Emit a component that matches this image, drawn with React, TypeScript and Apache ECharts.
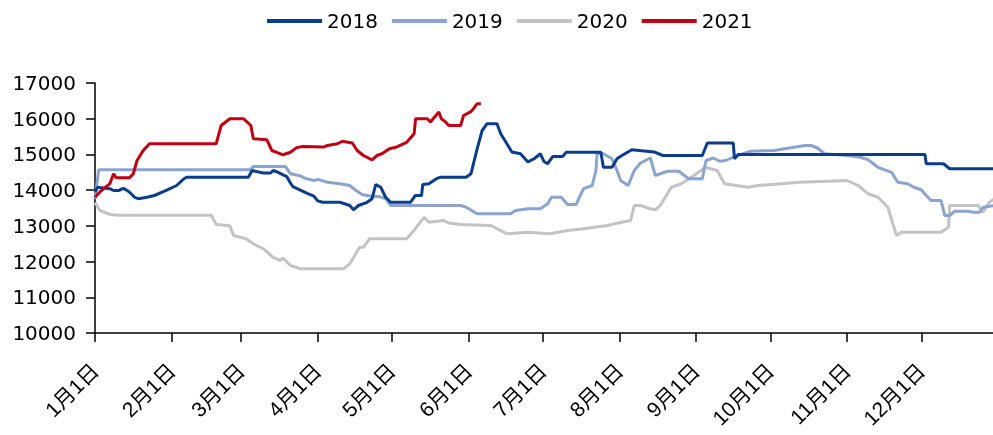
import React, { useEffect, useRef } from "react";
import * as echarts from "echarts";

const seriesNames = ["2018", "2019", "2020", "2021"];
const monthStarts = [0, 31, 59, 90, 120, 151, 181, 212, 243, 273, 304, 334];
const monthLabels = ["1月1日", "2月1日", "3月1日", "4月1日", "5月1日", "6月1日", "7月1日", "8月1日", "9月1日", "10月1日", "11月1日", "12月1日"];

const data2018: [number, number][] = [
  [0, 13950], [1, 14080], [6, 14040], [7.5, 13990], [9.5, 13990], [11.5, 14050], [13, 13990], [14, 13940], [16, 13800], [17.5, 13760], [21, 13800], [24, 13850], [29, 14000], [33, 14130], [36, 14320], [37, 14360], [62, 14360], [63.5, 14550], [68, 14480], [71, 14480], [72, 14550], [74, 14500], [77.5, 14380], [79, 14200], [80, 14100], [83, 14000], [86, 13900], [88.5, 13830], [90, 13700], [92, 13660], [99, 13660], [103, 13570], [104.5, 13450], [106.5, 13570], [110, 13660], [112, 13760], [113.5, 14160], [115.5, 14080], [117.5, 13800], [119.5, 13660], [127.5, 13660], [129.5, 13850], [132, 13850], [132.5, 14160], [135, 14180], [138, 14320], [139.5, 14360], [150, 14360], [152, 14460], [153, 14740], [154.5, 15160], [156.5, 15670], [158.5, 15860], [162.5, 15860], [164, 15580], [166.5, 15300], [168.5, 15070], [172, 15020], [175, 14790], [177.5, 14880], [180, 15020], [181.5, 14800], [183, 14740], [185, 14940], [189, 14940], [190.5, 15060], [204.5, 15060], [205.5, 14640], [209, 14640], [211, 14880], [213, 14970], [217, 15130], [221, 15100], [226, 15070], [229.5, 14970], [245.5, 14970], [247.5, 15320], [258, 15320], [258.5, 14880], [260, 15000], [335.5, 15000], [336, 14740], [343, 14740], [345.5, 14600], [364, 14600],
];

const data2019: [number, number][] = [
  [0, 13750], [1.5, 14570], [62.5, 14570], [64, 14660], [77, 14660], [79, 14460], [83, 14400], [85, 14330], [88.5, 14270], [90, 14300], [94, 14220], [99, 14180], [103, 14130], [105.5, 13990], [108, 13880], [112, 13820], [115, 13820], [117.5, 13760], [119.5, 13570], [148, 13570], [150, 13520], [154.5, 13340], [168, 13340], [170, 13430], [175, 13480], [180, 13480], [183, 13620], [184.5, 13800], [188.5, 13800], [191, 13600], [194.5, 13600], [196.5, 13900], [197.5, 14040], [201, 14130], [202.5, 14550], [203, 15060], [205.5, 15020], [209, 14880], [211, 14550], [212.5, 14270], [215.5, 14130], [218, 14550], [220.5, 14760], [224.5, 14900], [226.5, 14410], [231.5, 14530], [236, 14530], [240, 14320], [245.5, 14320], [247, 14830], [250, 14900], [252.5, 14810], [255, 14830], [258.5, 14940], [265, 15090], [274.5, 15110], [282.5, 15200], [287, 15250], [289.5, 15250], [292, 15180], [295, 15020], [304, 14970], [309.5, 14920], [312.5, 14850], [316.5, 14640], [322, 14500], [324.5, 14220], [328.5, 14180], [331, 14080], [334, 14010], [336, 13850], [338, 13710], [342, 13710], [343.5, 13290], [345.5, 13290], [347.5, 13410], [353, 13410], [355, 13380], [357.5, 13380], [359, 13520], [364, 13570],
];

const data2020: [number, number][] = [
  [0, 13650], [2, 13430], [6, 13320], [10, 13300], [47, 13300], [49, 13040], [54.5, 13000], [56, 12730], [61, 12640], [64, 12500], [68, 12360], [72, 12120], [75, 12030], [76, 12100], [79, 11890], [83, 11800], [100.5, 11800], [103, 11940], [107, 12400], [108.5, 12400], [111, 12640], [126, 12640], [129.5, 12920], [133, 13240], [135, 13100], [141, 13150], [143, 13080], [148, 13040], [160, 13010], [166.5, 12780], [175, 12820], [184, 12780], [191, 12870], [197.5, 12920], [207, 13010], [210, 13060], [216.5, 13150], [218, 13570], [220.5, 13570], [224.5, 13480], [226.5, 13450], [228.5, 13570], [233, 14080], [237, 14180], [241, 14360], [245, 14550], [246.5, 14640], [251.5, 14550], [254.5, 14180], [264, 14080], [268, 14130], [285, 14220], [304, 14270], [308.5, 14130], [312.5, 13900], [316.5, 13800], [320.5, 13520], [322.5, 13060], [324, 12730], [326, 12820], [342, 12820], [345, 12960], [345.5, 13570], [357, 13570], [359, 13380], [361.5, 13660], [364, 13780],
];

const data2021: [number, number][] = [
  [0, 13800], [2, 13950], [6, 14180], [7.5, 14460], [8.5, 14350], [14, 14350], [15.5, 14460], [17, 14830], [19.5, 15110], [22, 15300], [49, 15300], [51, 15810], [54.5, 16000], [60, 16000], [63, 15810], [64, 15440], [69.5, 15410], [71.5, 15110], [76, 14990], [79, 15060], [81.5, 15190], [84, 15220], [92.5, 15210], [94, 15250], [98, 15300], [100, 15370], [104, 15320], [106, 15110], [108.5, 14970], [112, 14850], [114, 14970], [116, 15020], [119, 15160], [122, 15210], [126, 15340], [129, 15580], [129.6, 16000], [134.3, 16000], [135.6, 15910], [139, 16190], [140, 16000], [141.7, 15910], [143, 15810], [147.8, 15810], [149, 16090], [151.8, 16190], [153, 16280], [154.5, 16420], [156, 16420],
];

const seriesData = [data2018, data2019, data2020, data2021];
const colors = ["#0B3D8C", "#8AA4CF", "#C3C3C3", "#C00012"];

export default function App() {
  const ref = useRef<HTMLDivElement>(null);
  useEffect(() => {
    if (!ref.current) return;
    const chart = echarts.init(ref.current, null, { renderer: "svg" });
    const font = "'DejaVu Sans', 'Noto Sans CJK SC', sans-serif";
    const labelFont = "'Liberation Sans', 'Noto Sans CJK SC', sans-serif";
    chart.setOption({
      animation: false,
      color: colors,
      textStyle: { fontFamily: font },
      legend: {
        data: seriesNames,
        top: 6,
        left: 262,
        itemWidth: 55,
        itemHeight: 4,
        itemGap: 14,
        icon: "rect",
        textStyle: { fontSize: 20, color: "#000", fontFamily: font },
      },
      grid: { left: 95, right: 0, top: 83, bottom: 102, containLabel: false, outerBoundsMode: "none" },
      xAxis: {
        type: "value",
        min: 0,
        max: 363,
        axisLine: { lineStyle: { color: "#000", width: 1.5 } },
        axisTick: { show: true, length: 9, lineStyle: { color: "#000", width: 1.5 }, customValues: monthStarts },
        axisLabel: {
          customValues: monthStarts,
          rotate: 45,
          margin: 34,
          fontSize: 21,
          color: "#000",
          fontFamily: labelFont,
          formatter: (v: number) => {
            const i = monthStarts.indexOf(Math.round(v));
            return i >= 0 ? monthLabels[i] : "";
          },
        },
        splitLine: { show: false },
      },
      yAxis: {
        type: "value",
        min: 10000,
        max: 17000,
        interval: 1000,
        axisLine: { show: true, lineStyle: { color: "#000", width: 1.5 } },
        axisTick: { show: true, length: 9, lineStyle: { color: "#000", width: 1.5 } },
        axisLabel: { fontSize: 20, color: "#000", margin: 19, fontFamily: font, formatter: (v: number) => String(v) },
        splitLine: { show: false },
      },
      series: seriesNames.map((name, i) => ({
        name,
        type: "line",
        data: seriesData[i],
        showSymbol: false,
        symbol: "none",
        lineStyle: { width: 3, color: colors[i] },
        itemStyle: { color: colors[i] },
        z: i === 3 ? 5 : i === 0 ? 4 : 3 - i,
      })),
    });
    return () => chart.dispose();
  }, []);
  return <div ref={ref} style={{ position: "fixed", left: 0, top: 0, width: 993, height: 435 }} />;
}
